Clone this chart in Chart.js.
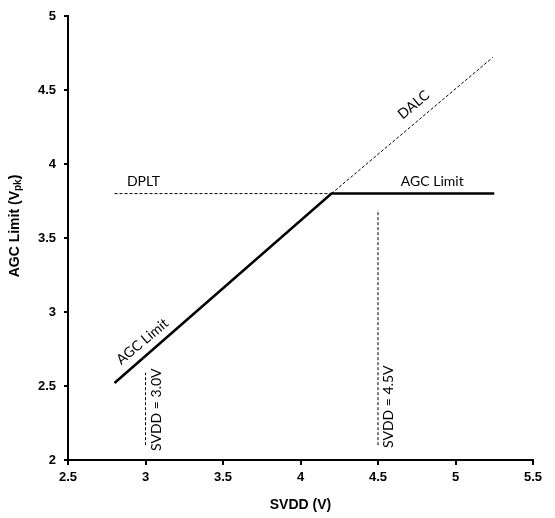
<!DOCTYPE html>
<html>
<head>
<meta charset="utf-8">
<script src="https://cdn.jsdelivr.net/npm/chart.js@4.4.0/dist/chart.umd.min.js"></script>
<style>
  html, body { margin: 0; padding: 0; background: #fff; }
  #wrap { width: 555px; height: 518px; }
</style>
</head>
<body>
<div id="wrap"><canvas id="chart"></canvas></div>
<script>
// Data
const xTicks = [2.5, 3, 3.5, 4, 4.5, 5, 5.5];
const yTicks = [2, 2.5, 3, 3.5, 4, 4.5, 5];

const agcX = [2.8, 4.2, 5.25];
const agcY = [2.52, 3.8, 3.8];
const dalcX = [4.2, 5.24];
const dalcY = [3.8, 4.72];
const dpltX = [2.8, 4.2];
const dpltY = [3.8, 3.8];
const sv30X = [3, 3];
const sv30Y = [2.1, 2.59];
const sv45X = [4.5, 4.5];
const sv45Y = [2.1, 3.69];

// annotation text, anchor in data units, angle in degrees
const noteText = ['DPLT', 'AGC Limit', 'DALC', 'AGC Limit', 'SVDD = 3.0V', 'SVDD = 4.5V'];
const noteX = [2.88, 4.85, 4.73, 2.98, 3.07, 4.57];
const noteY = [3.88, 3.88, 4.40, 2.80, 2.34, 2.36];
const noteAngle = [0, 0, -40, -40, -90, -90];

const pts = (xs, ys) => xs.map((x, i) => ({ x: x, y: ys[i] }));

const dashed = { borderColor: '#000', borderWidth: 1, borderDash: [3, 2], pointRadius: 0, showLine: true, fill: false };

const notesPlugin = {
    id: 'notes',
    afterDatasetsDraw(chart) {
        const ctx = chart.ctx;
        const xs = chart.scales.x, ys = chart.scales.y;
        ctx.save();
        ctx.fillStyle = '#000';
        ctx.font = '14px Lato, "Open Sans", sans-serif';
        ctx.textBaseline = 'middle';
        noteText.forEach((t, i) => {
            const px = xs.getPixelForValue(noteX[i]);
            const py = ys.getPixelForValue(noteY[i]);
            ctx.save();
            ctx.translate(px, py);
            ctx.rotate(noteAngle[i] * Math.PI / 180);
            ctx.textAlign = i === 0 ? 'left' : 'center';
            ctx.fillText(t, 0, 0);
            ctx.restore();
        });

        // y axis title with subscript
        ctx.translate(15, 226);
        ctx.rotate(-Math.PI / 2);
        const big = 'bold 14px "Liberation Sans", Arial, sans-serif';
        const small = 'bold 10px "Liberation Sans", Arial, sans-serif';
        const a = 'AGC Limit (V', b = 'pk', c = ')';
        ctx.font = big; const wa = ctx.measureText(a).width, wc = ctx.measureText(c).width;
        ctx.font = small; const wb = ctx.measureText(b).width;
        let x0 = -(wa + wb + wc) / 2;
        ctx.textAlign = 'left';
        ctx.font = big; ctx.fillText(a, x0, 0);
        ctx.font = small; ctx.fillText(b, x0 + wa, 3);
        ctx.font = big; ctx.fillText(c, x0 + wa + wb, 0);
        ctx.restore();
    }
};

const tickFont = { family: '"Liberation Sans", Arial, sans-serif', size: 13, weight: 'bold' };
const titleFont = { family: '"Liberation Sans", Arial, sans-serif', size: 14, weight: 'bold' };

new Chart(document.getElementById('chart'), {
    type: 'scatter',
    data: {
        datasets: [
            { data: pts(agcX, agcY), borderColor: '#000', borderWidth: 2.5, pointRadius: 0, showLine: true, fill: false },
            Object.assign({ data: pts(dalcX, dalcY) }, dashed),
            Object.assign({ data: pts(dpltX, dpltY) }, dashed),
            Object.assign({ data: pts(sv30X, sv30Y) }, dashed),
            Object.assign({ data: pts(sv45X, sv45Y) }, dashed)
        ]
    },
    options: {
        responsive: true,
        maintainAspectRatio: false,
        animation: false,
        layout: { padding: { top: 16, right: 22, left: 0, bottom: 0 } },
        plugins: { legend: { display: false }, tooltip: { enabled: false } },
        scales: {
            x: {
                type: 'linear', min: 2.5, max: 5.5,
                afterBuildTicks: s => { s.ticks = xTicks.map(v => ({ value: v })); },
                afterFit: s => { s.height = 58; },
                grid: { drawOnChartArea: false, drawTicks: true, tickLength: 5, color: '#000', lineWidth: 2 },
                border: { color: '#000', width: 2 },
                ticks: { color: '#000', font: tickFont, padding: 5, maxRotation: 0, callback: v => String(v) },
                title: { display: true, text: 'SVDD (V)', color: '#000', font: titleFont, padding: { top: 6 } }
            },
            y: {
                type: 'linear', min: 2, max: 5,
                afterBuildTicks: s => { s.ticks = yTicks.map(v => ({ value: v })); },
                afterFit: s => { s.width = 68; },
                grid: { drawOnChartArea: false, drawTicks: true, tickLength: 4, color: '#000', lineWidth: 2 },
                border: { color: '#000', width: 2 },
                ticks: { color: '#000', font: tickFont, padding: 8, callback: v => String(v) }
            }
        }
    },
    plugins: [notesPlugin]
});
</script>
</body>
</html>
